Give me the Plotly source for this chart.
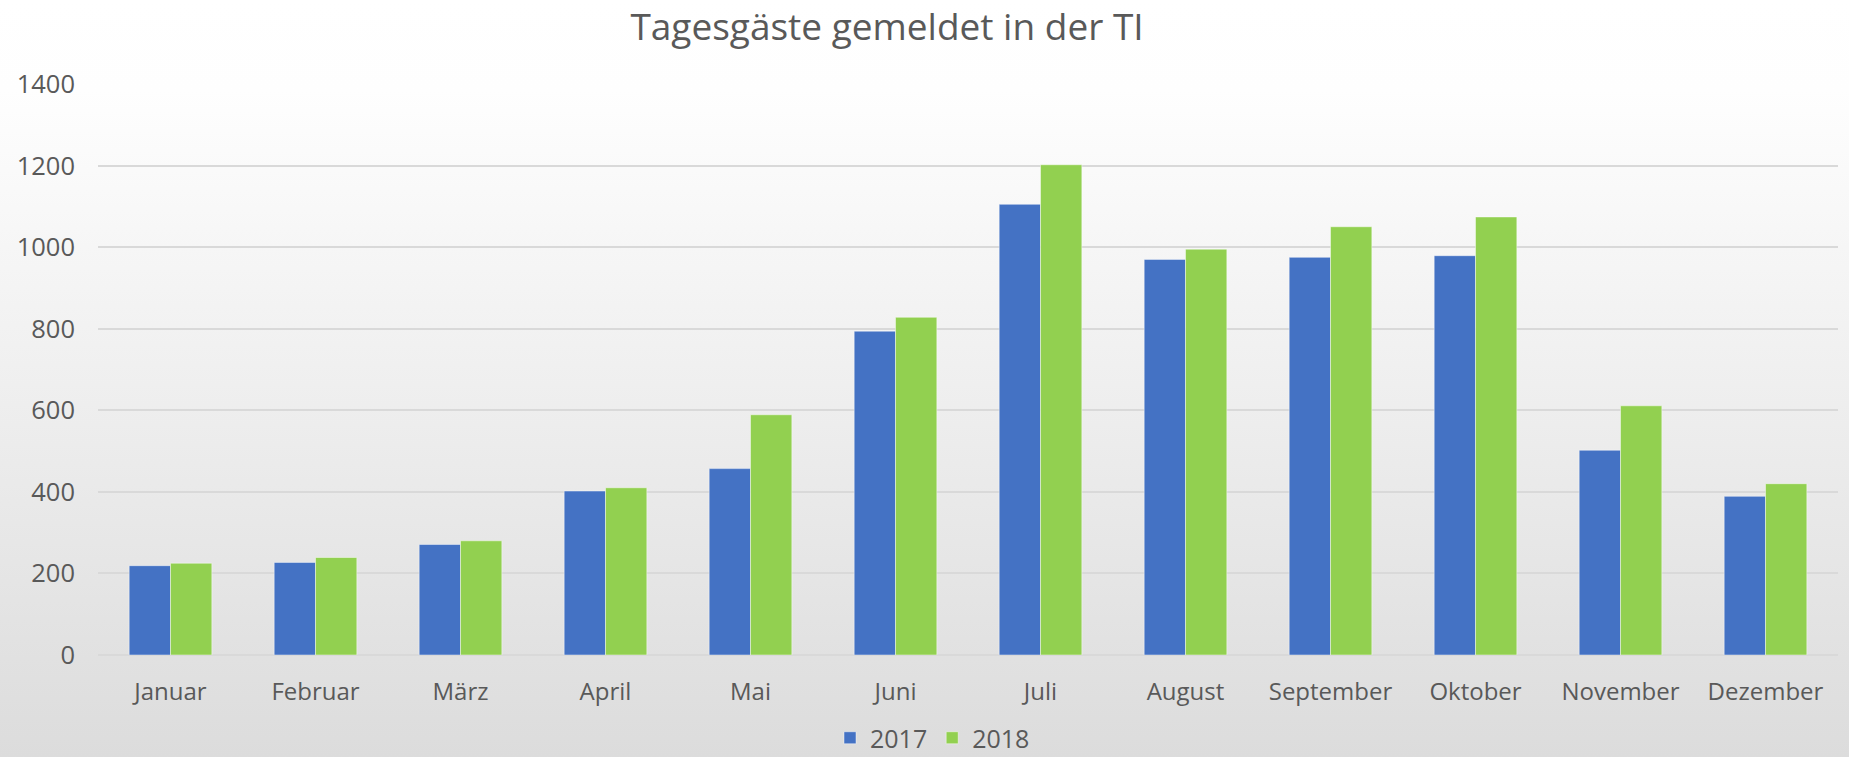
import base64
import plotly.graph_objects as go

months = ["Januar", "Februar", "März", "April", "Mai", "Juni", "Juli",
          "August", "September", "Oktober", "November", "Dezember"]
values_2017 = [219, 227, 271, 402, 457, 794, 1105, 970, 975, 979, 502, 389]
values_2018 = [225, 239, 280, 410, 589, 828, 1202, 995, 1050, 1074, 611, 420]
y_ticks = [0, 200, 400, 600, 800, 1000, 1200, 1400]

W, H = 1849, 757
L, R, T, B = 98, 11, 84, 102
pw, ph = W - L - R, H - T - B

FONT = "Open Sans, Noto Sans, DejaVu Sans, sans-serif"
TXT = "#595959"

svg = ('<svg xmlns="http://www.w3.org/2000/svg" width="100" height="100" preserveAspectRatio="none">'
       '<defs><linearGradient id="g" x1="0" y1="0" x2="0" y2="1">'
       '<stop offset="0" stop-color="#ffffff"/><stop offset="0.12" stop-color="#fefefe"/>'
       '<stop offset="1" stop-color="#dcdcdc"/></linearGradient></defs>'
       '<rect width="100" height="100" fill="url(#g)"/></svg>')
src = "data:image/svg+xml;base64," + base64.b64encode(svg.encode()).decode()

fig = go.Figure()
fig.add_trace(go.Bar(name="2017", x=months, y=values_2017,
                     marker=dict(color="#4472C4", line=dict(color="rgba(255,255,255,0.45)", width=1))))
fig.add_trace(go.Bar(name="2018", x=months, y=values_2018,
                     marker=dict(color="#92D050", line=dict(color="rgba(255,255,255,0.45)", width=1))))

fig.update_layout(
    width=W, height=H,
    margin=dict(l=L, r=R, t=T, b=B, pad=0, autoexpand=False),
    paper_bgcolor="#ffffff",
    plot_bgcolor="rgba(0,0,0,0)",
    barmode="group", bargap=0.43, bargroupgap=0,
    font=dict(family=FONT, color=TXT, size=24),
    title=dict(text="Tagesgäste gemeldet in der TI", x=887 / W, xanchor="center",
               y=1 - 27 / H, yanchor="middle", xref="container", yref="container",
               font=dict(size=37, color=TXT, family=FONT)),
    xaxis=dict(showgrid=False, showline=False, ticks="", tickfont=dict(size=24, color=TXT),
               ticklabelstandoff=20),
    yaxis=dict(range=[0, 1400], tickvals=y_ticks, showgrid=True, gridcolor="#d9d9d9",
               gridwidth=1.5, zeroline=True, zerolinecolor="#d9d9d9", zerolinewidth=1.5,
               showline=False, ticks="", tickfont=dict(size=25.5, color=TXT),
               ticklabelstandoff=22),
    legend=dict(orientation="h", xref="container", yref="container", x=0.5 + 8 / W, xanchor="center",
                y=19 / H, yanchor="middle", font=dict(size=25, color=TXT),
                bgcolor="rgba(0,0,0,0)", itemwidth=30, traceorder="normal"),
    images=[dict(source=src, xref="paper", yref="paper", x=-L / pw, y=1 + T / ph,
                 sizex=W / pw, sizey=H / ph, sizing="stretch", layer="below",
                 xanchor="left", yanchor="top")],
)

fig.write_html("out.html", include_plotlyjs=True, config={"displayModeBar": False},
               post_script="document.body.style.margin='0';document.body.style.overflow='hidden';")
